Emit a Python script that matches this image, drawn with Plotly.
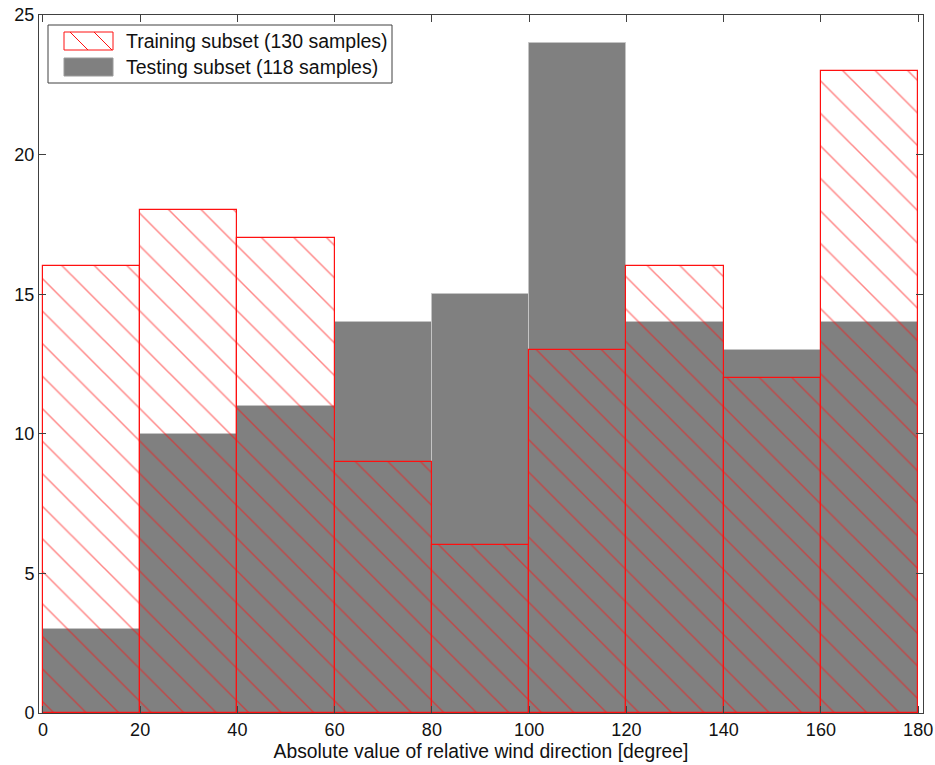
import plotly.graph_objects as go

# Histogram bins of |relative wind direction| (degrees)
bin_centers = [10, 30, 50, 70, 90, 110, 130, 150, 170]
bin_width = 20
training_counts = [16, 18, 17, 9, 6, 13, 16, 12, 23]
testing_counts = [3, 10, 11, 14, 15, 24, 14, 13, 14]
x_ticks = [0, 20, 40, 60, 80, 100, 120, 140, 160, 180]
y_ticks = [0, 5, 10, 15, 20, 25]
training_label = "Training subset (130 samples)"
testing_label = "Testing subset (118 samples)"

W, H = 935, 765
M_L, M_R, M_T, M_B = 39, 12, 15, 52
PW, PH = W - M_L - M_R, H - M_T - M_B

FONT = "Liberation Sans, Arial, sans-serif"
RED = "#ff1010"


def px_x(p):
    """Horizontal pixel position -> paper fraction."""
    return (p - M_L) / PW


def px_y(p):
    """Vertical pixel position (from top) -> paper fraction."""
    return (H - M_B - p) / PH


fig = go.Figure()

fig.add_trace(go.Bar(
    x=bin_centers,
    y=testing_counts,
    width=bin_width,
    name=testing_label,
    marker=dict(color="#808080", line=dict(color="#c4c4c4", width=1)),
    showlegend=False,
))

fig.add_trace(go.Bar(
    x=bin_centers,
    y=training_counts,
    width=bin_width,
    name=training_label,
    marker=dict(
        color="rgba(0,0,0,0)",
        line=dict(color=RED, width=1.2),
        pattern=dict(shape="\\", fgcolor=RED, size=23, solidity=0.065,
                     fillmode="overlay"),
    ),
    showlegend=False,
))

axis_common = dict(
    showline=True, linecolor="#404040", linewidth=1, mirror="ticks",
    ticks="inside", ticklen=7, tickcolor="#404040",
    showgrid=False, zeroline=False, automargin=False,
    tickfont=dict(family=FONT, size=18, color="#111"),
)

# Legend box drawn by hand so the swatches can be wide rectangles
shapes = [
    dict(type="rect", xref="paper", yref="paper",
         x0=px_x(48), x1=px_x(392), y0=px_y(83), y1=px_y(25),
         fillcolor="white", line=dict(color="#404040", width=1), layer="above"),
    dict(type="rect", xref="paper", yref="paper",
         x0=px_x(64), x1=px_x(113), y0=px_y(50), y1=px_y(32),
         fillcolor="white", line=dict(color=RED, width=1), layer="above"),
    dict(type="rect", xref="paper", yref="paper",
         x0=px_x(64), x1=px_x(113), y0=px_y(76), y1=px_y(58),
         fillcolor="#808080", line=dict(color="#9a9a9a", width=1), layer="above"),
]
for sx in (70, 94):
    shapes.append(dict(type="line", xref="paper", yref="paper",
                       x0=px_x(sx), x1=px_x(sx + 18), y0=px_y(32), y1=px_y(50),
                       line=dict(color=RED, width=1), layer="above"))

annotations = [
    dict(text=training_label, xref="paper", yref="paper", x=px_x(124), y=px_y(41),
         xanchor="left", yanchor="middle", showarrow=False,
         font=dict(family=FONT, size=19.5, color="#111")),
    dict(text=testing_label, xref="paper", yref="paper", x=px_x(124), y=px_y(67),
         xanchor="left", yanchor="middle", showarrow=False,
         font=dict(family=FONT, size=19.5, color="#111")),
]

fig.update_layout(
    width=W, height=H,
    margin=dict(l=M_L, r=M_R, t=M_T, b=M_B),
    barmode="overlay",
    bargap=0,
    plot_bgcolor="white",
    paper_bgcolor="white",
    font=dict(family=FONT, size=18, color="#111"),
    xaxis=dict(range=[-0.8, 181], tickvals=x_ticks,
               title=dict(text="Absolute value of relative wind direction [degree]",
                          standoff=5, font=dict(family=FONT, size=19.3)),
               **axis_common),
    yaxis=dict(range=[0, 25], tickvals=y_ticks, **axis_common),
    shapes=shapes,
    annotations=annotations,
    showlegend=False,
)

fig.write_html("out.html")
